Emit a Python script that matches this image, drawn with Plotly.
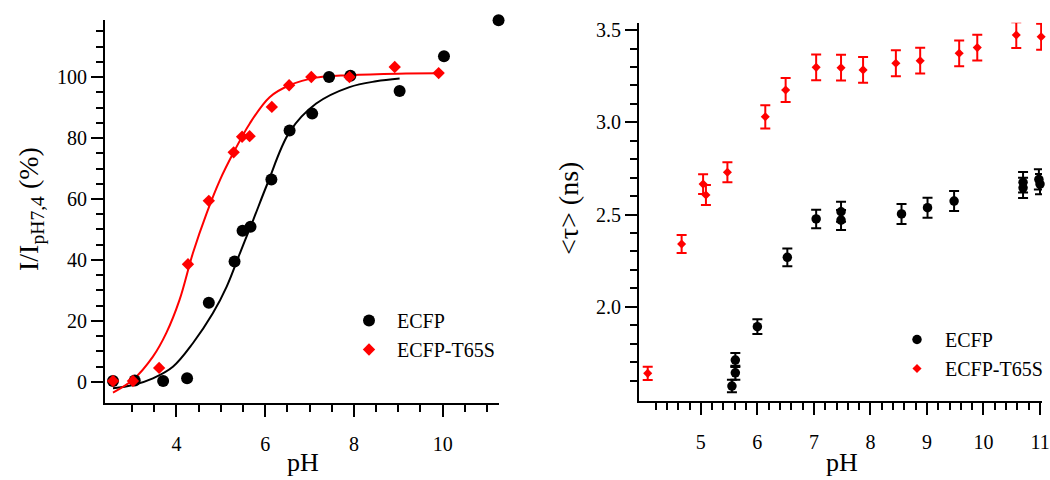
import numpy as np
import plotly.graph_objects as go

# ---------------- data: left panel (relative intensity) ----------------
ecfp_ph = [2.57, 3.06, 3.70, 4.24, 4.73, 5.31, 5.49, 5.67, 6.14, 6.55, 7.06, 7.44, 7.92, 9.03, 10.03, 11.26]
ecfp_int = [0.3, 0.5, 0.3, 1.2, 26.0, 39.5, 49.6, 50.9, 66.4, 82.5, 88.0, 100.0, 100.4, 95.4, 106.8, 118.6]

t65s_ph = [2.57, 3.02, 3.61, 4.26, 4.73, 5.29, 5.48, 5.65, 6.15, 6.54, 7.04, 7.90, 8.92, 9.91]
t65s_int = [0.3, 0.3, 4.6, 38.6, 59.4, 75.3, 80.4, 80.6, 90.2, 97.3, 100.0, 100.0, 103.3, 101.3]

# fitted curves
ecfp_fit_ph = [2.57, 3.02, 3.47, 3.92, 4.37, 4.82, 5.13, 5.43, 5.73, 6.05, 6.55, 7.15, 7.90, 8.50, 9.03]
ecfp_fit = [-2.1, -1.0, 1.2, 5.0, 12.7, 22.5, 31.2, 42.2, 53.1, 65.0, 82.0, 91.3, 96.7, 98.6, 99.5]

t65s_fit_ph = [2.57, 3.02, 3.47, 3.77, 4.07, 4.37, 4.68, 4.98, 5.29, 5.65, 6.10, 6.55, 7.15, 7.90, 9.00, 9.91]
t65s_fit = [-3.5, 0.7, 8.3, 16.0, 26.9, 42.2, 55.3, 66.2, 75.3, 84.7, 93.4, 97.3, 99.8, 100.6, 101.1, 101.2]

# ---------------- data: right panel (mean lifetime) ----------------
ecfp_tau_ph = [5.55, 5.61, 5.61, 6.00, 6.53, 7.04, 7.48, 7.48, 8.55, 9.01, 9.48, 10.70, 10.70, 10.98, 11.00]
ecfp_tau = [1.570, 1.642, 1.711, 1.892, 2.268, 2.476, 2.515, 2.470, 2.503, 2.537, 2.573, 2.675, 2.645, 2.690, 2.665]
ecfp_tau_err = [0.034, 0.038, 0.038, 0.040, 0.048, 0.050, 0.054, 0.054, 0.054, 0.054, 0.054, 0.055, 0.055, 0.055, 0.055]

t65s_tau_ph = [4.06, 4.66, 5.04, 5.09, 5.47, 6.14, 6.50, 7.04, 7.48, 7.87, 8.45, 8.88, 9.57, 9.89, 10.58, 11.02]
t65s_tau = [1.639, 2.340, 2.665, 2.606, 2.729, 3.030, 3.175, 3.298, 3.296, 3.284, 3.320, 3.334, 3.374, 3.405, 3.473, 3.464]
t65s_tau_err = [0.036, 0.049, 0.054, 0.054, 0.054, 0.063, 0.065, 0.070, 0.070, 0.070, 0.070, 0.070, 0.070, 0.070, 0.070, 0.070]

left_x_ticks = [4, 6, 8, 10]
left_y_ticks = [0, 20, 40, 60, 80, 100]
right_x_ticks = [5, 6, 7, 8, 9, 10, 11]
right_y_ticks = [2.0, 2.5, 3.0, 3.5]
right_y_ticklabels = ["2.0", "2.5", "3.0", "3.5"]

RED = "#ff0000"
BLACK = "#000000"
FONT = "Liberation Serif"

W, H = 1050, 480

fig = go.Figure()

# left panel: fit lines
fig.add_trace(go.Scatter(x=ecfp_fit_ph, y=ecfp_fit, mode="lines", line=dict(color=BLACK, width=2, shape="spline"),
                         showlegend=False, xaxis="x", yaxis="y", hoverinfo="skip"))
fig.add_trace(go.Scatter(x=t65s_fit_ph, y=t65s_fit, mode="lines", line=dict(color=RED, width=2, shape="spline"),
                         showlegend=False, xaxis="x", yaxis="y", hoverinfo="skip"))
# left panel: points
fig.add_trace(go.Scatter(x=ecfp_ph, y=ecfp_int, mode="markers", name="ECFP",
                         marker=dict(symbol="circle", size=12, color=BLACK),
                         cliponaxis=False, xaxis="x", yaxis="y", legend="legend"))
fig.add_trace(go.Scatter(x=t65s_ph, y=t65s_int, mode="markers", name="ECFP-T65S",
                         marker=dict(symbol="diamond", size=9.5, color=RED),
                         cliponaxis=False, xaxis="x", yaxis="y", legend="legend"))

# right panel
fig.add_trace(go.Scatter(x=ecfp_tau_ph, y=ecfp_tau, mode="markers", name="ECFP",
                         marker=dict(symbol="circle", size=9.5, color=BLACK),
                         error_y=dict(type="data", array=ecfp_tau_err, color=BLACK, thickness=2, width=5),
                         cliponaxis=False, xaxis="x2", yaxis="y2", legend="legend2"))
fig.add_trace(go.Scatter(x=t65s_tau_ph, y=t65s_tau, mode="markers", name="ECFP-T65S",
                         marker=dict(symbol="diamond", size=7, color=RED),
                         error_y=dict(type="data", array=t65s_tau_err, color=RED, thickness=2, width=5),
                         cliponaxis=False, xaxis="x2", yaxis="y2", legend="legend2"))

def px_x(p):
    return p / W

def px_y(p):
    return 1 - p / H

axis_common = dict(showline=True, linewidth=2, linecolor=BLACK, showgrid=False, zeroline=False,
                   ticks="outside", ticklen=12, tickwidth=2, tickcolor=BLACK,
                   tickfont=dict(family=FONT, size=20, color=BLACK), automargin=False)

left_x_minor = [v for v in np.arange(3.0, 11.01, 0.5) if v not in left_x_ticks]
left_y_minor = [v for v in range(5, 116, 5) if v not in left_y_ticks]
right_x_minor = [round(v, 1) for v in np.arange(4.2, 11.01, 0.2) if abs(v - round(v)) > 1e-6]
right_y_minor = [round(v, 1) for v in np.arange(1.6, 3.41, 0.1) if abs(v * 2 - round(v * 2)) > 1e-6]

minor_common = dict(ticks="outside", ticklen=7, tickwidth=2, tickcolor=BLACK, tickmode="array", showgrid=False)

fig.update_layout(
    width=W, height=H,
    margin=dict(l=0, r=0, t=0, b=0),
    paper_bgcolor="white", plot_bgcolor="white",
    font=dict(family=FONT, color=BLACK),
    xaxis=dict(domain=[px_x(105), px_x(499)], range=[2.39, 11.27], anchor="y",
               tickmode="array", tickvals=left_x_ticks, ticklabelstandoff=10,
               minor=dict(tickvals=left_x_minor, **minor_common), **axis_common),
    yaxis=dict(domain=[px_y(403), px_y(20)], range=[-6.9, 118.7], anchor="x",
               tickmode="array", tickvals=left_y_ticks,
               minor=dict(tickvals=left_y_minor, **minor_common), **axis_common),
    xaxis2=dict(domain=[px_x(639), px_x(1042)], range=[3.906, 11.035], anchor="y2",
                tickmode="array", tickvals=right_x_ticks, ticklabelstandoff=10,
                minor=dict(tickvals=right_x_minor, **minor_common), **axis_common),
    yaxis2=dict(domain=[px_y(401), px_y(22.7)], range=[1.489, 3.54], anchor="x2",
                tickmode="array", tickvals=right_y_ticks, ticktext=right_y_ticklabels,
                minor=dict(tickvals=right_y_minor, **minor_common), **axis_common),
    legend=dict(x=px_x(341), y=px_y(301), xanchor="left", yanchor="top", itemwidth=46,
                bgcolor="rgba(0,0,0,0)", font=dict(family=FONT, size=20, color=BLACK)),
    legend2=dict(x=px_x(889), y=px_y(320), xanchor="left", yanchor="top", itemwidth=46,
                 bgcolor="rgba(0,0,0,0)", font=dict(family=FONT, size=20, color=BLACK)),
    annotations=[
        dict(text="pH", x=px_x(303), y=px_y(462), xref="paper", yref="paper", showarrow=False,
             xanchor="center", yanchor="middle", font=dict(family=FONT, size=26, color=BLACK)),
        dict(text="pH", x=px_x(842), y=px_y(462), xref="paper", yref="paper", showarrow=False,
             xanchor="center", yanchor="middle", font=dict(family=FONT, size=26, color=BLACK)),
        dict(text="I/I<sub>pH7,4</sub> (%)", x=px_x(30), y=px_y(209), xref="paper", yref="paper",
             showarrow=False, textangle=-90, xanchor="center", yanchor="middle",
             font=dict(family=FONT, size=28, color=BLACK)),
        dict(text="&lt;τ&gt; (ns)", x=px_x(568), y=px_y(209), xref="paper", yref="paper",
             showarrow=False, textangle=-90, xanchor="center", yanchor="middle",
             font=dict(family=FONT, size=28, color=BLACK)),
    ],
)

fig.write_html("out.html", config={"displayModeBar": False},
               post_script="document.body.style.margin='0';document.body.style.padding='0';")
